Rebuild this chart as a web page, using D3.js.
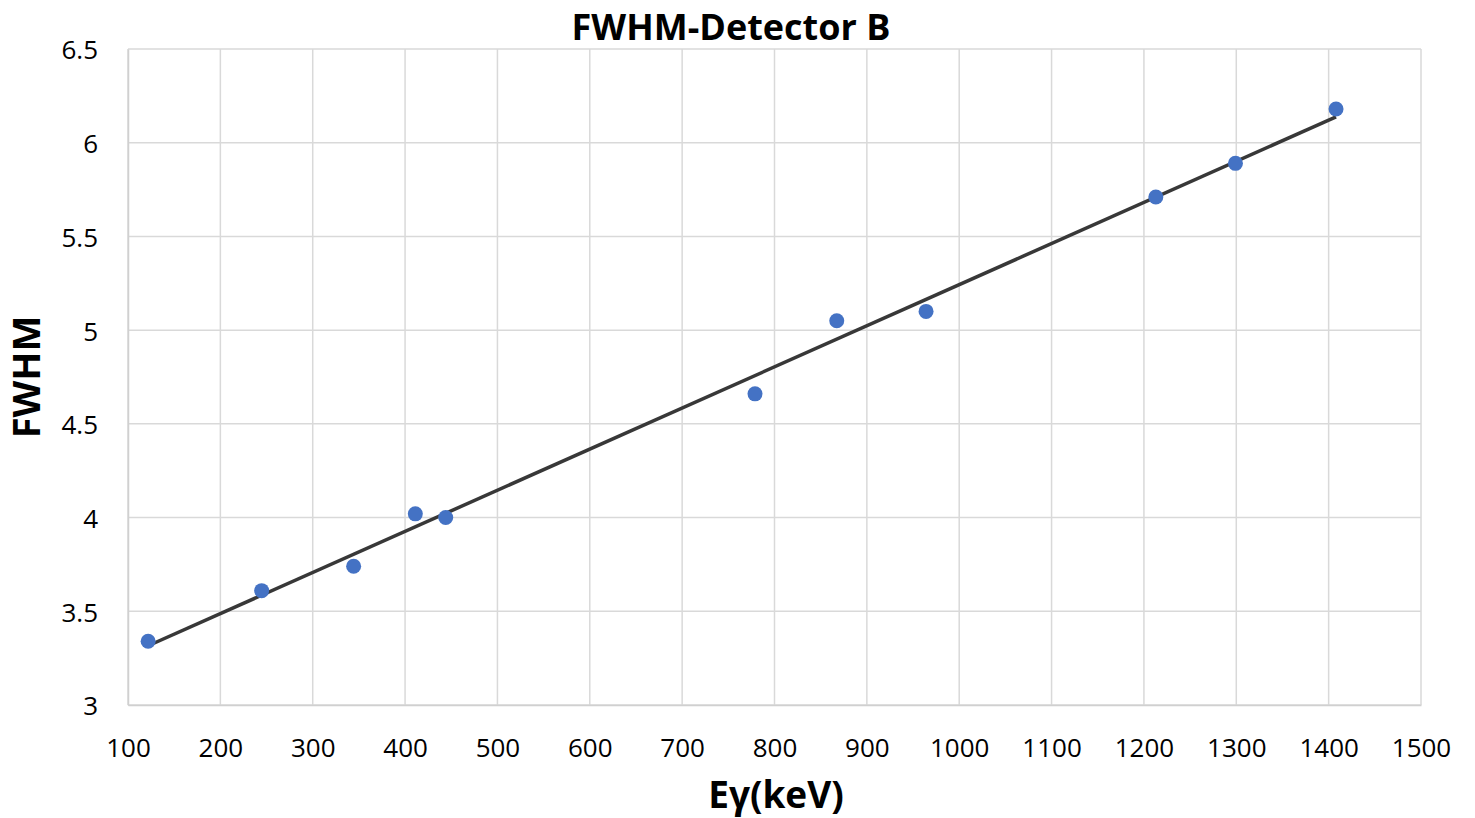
<!DOCTYPE html>
<html>
<head>
<meta charset="utf-8">
<script src="https://cdn.jsdelivr.net/npm/d3@7"></script>
<style>
  html, body { margin: 0; padding: 0; background: #fff; }
  svg { display: block; font-family: "Open Sans", "Liberation Sans", sans-serif; }
</style>
</head>
<body>
<svg id="chart" width="1475" height="818"></svg>
<script>
// Gamma-line energies (keV) and measured FWHM
const energies = [121.8, 244.7, 344.3, 411.1, 444.0, 778.9, 867.4, 964.1, 1212.9, 1299.1, 1408.0];
const fwhm     = [3.34, 3.61, 3.74, 4.02, 4.00, 4.66, 5.05, 5.10, 5.71, 5.89, 6.18];
const xTicks = [100, 200, 300, 400, 500, 600, 700, 800, 900, 1000, 1100, 1200, 1300, 1400, 1500];
const yTicks = [3, 3.5, 4, 4.5, 5, 5.5, 6, 6.5];

const svg = d3.select("#chart");
const plotLeft = 128, plotRight = 1421, plotTop = 49, plotBottom = 705;

const x = d3.scaleLinear().domain([100, 1500]).range([plotLeft, plotRight]);
const y = d3.scaleLinear().domain([3, 6.5]).range([plotBottom, plotTop]);

// Gridlines
svg.append("g").selectAll("line").data(xTicks).join("line")
  .attr("x1", d => x(d)).attr("x2", d => x(d))
  .attr("y1", plotTop).attr("y2", plotBottom)
  .attr("stroke", "#d9d9d9").attr("stroke-width", 1.5);
svg.append("g").selectAll("line").data(yTicks).join("line")
  .attr("x1", plotLeft).attr("x2", plotRight)
  .attr("y1", d => y(d)).attr("y2", d => y(d))
  .attr("stroke", "#d9d9d9").attr("stroke-width", 1.5);

// Axes (labels only, lines drawn in gray)
const xAxis = svg.append("g").attr("transform", `translate(0,${plotBottom})`)
  .call(d3.axisBottom(x).tickValues(xTicks).tickSize(0).tickPadding(34).tickFormat(d3.format("d")));
const yAxis = svg.append("g").attr("transform", `translate(${plotLeft},0)`)
  .call(d3.axisLeft(y).tickValues(yTicks).tickSize(0).tickPadding(30).tickFormat(d => String(d)));
[xAxis, yAxis].forEach(g => {
  g.select(".domain").attr("stroke", "#d0d0d0").attr("stroke-width", 1.5);
  g.selectAll("text").attr("font-size", 26).attr("fill", "#000")
    .attr("font-family", "'Open Sans', 'Liberation Sans', sans-serif");
});
yAxis.selectAll("text").attr("text-anchor", "end").attr("dy", "0.38em");

// Least-squares linear trend
const n = energies.length;
const mx = d3.mean(energies), my = d3.mean(fwhm);
let sxy = 0, sxx = 0;
for (let i = 0; i < n; i++) {
  sxy += (energies[i] - mx) * (fwhm[i] - my);
  sxx += (energies[i] - mx) ** 2;
}
const slope = sxy / sxx, intercept = my - slope * mx;
const x0 = d3.min(energies), x1 = d3.max(energies);
svg.append("line")
  .attr("x1", x(x0)).attr("y1", y(intercept + slope * x0))
  .attr("x2", x(x1)).attr("y2", y(intercept + slope * x1))
  .attr("stroke", "#383838").attr("stroke-width", 3.5);

// Data points
svg.append("g").selectAll("circle").data(energies).join("circle")
  .attr("cx", d => x(d)).attr("cy", (d, i) => y(fwhm[i]))
  .attr("r", 7.5).attr("fill", "#4472c4");

// Title and axis titles
svg.append("text").attr("x", 731).attr("y", 40).attr("text-anchor", "middle")
  .attr("font-size", 36).attr("font-weight", "bold").text("FWHM-Detector B");
svg.append("text").attr("x", 776).attr("y", 808).attr("text-anchor", "middle")
  .attr("font-size", 37).attr("font-weight", "bold").text("Eγ(keV)");
svg.append("text").attr("transform", `translate(40,${(plotTop + plotBottom) / 2}) rotate(-90)`)
  .attr("text-anchor", "middle")
  .attr("font-size", 38).attr("font-weight", "bold").text("FWHM");
</script>
</body>
</html>
